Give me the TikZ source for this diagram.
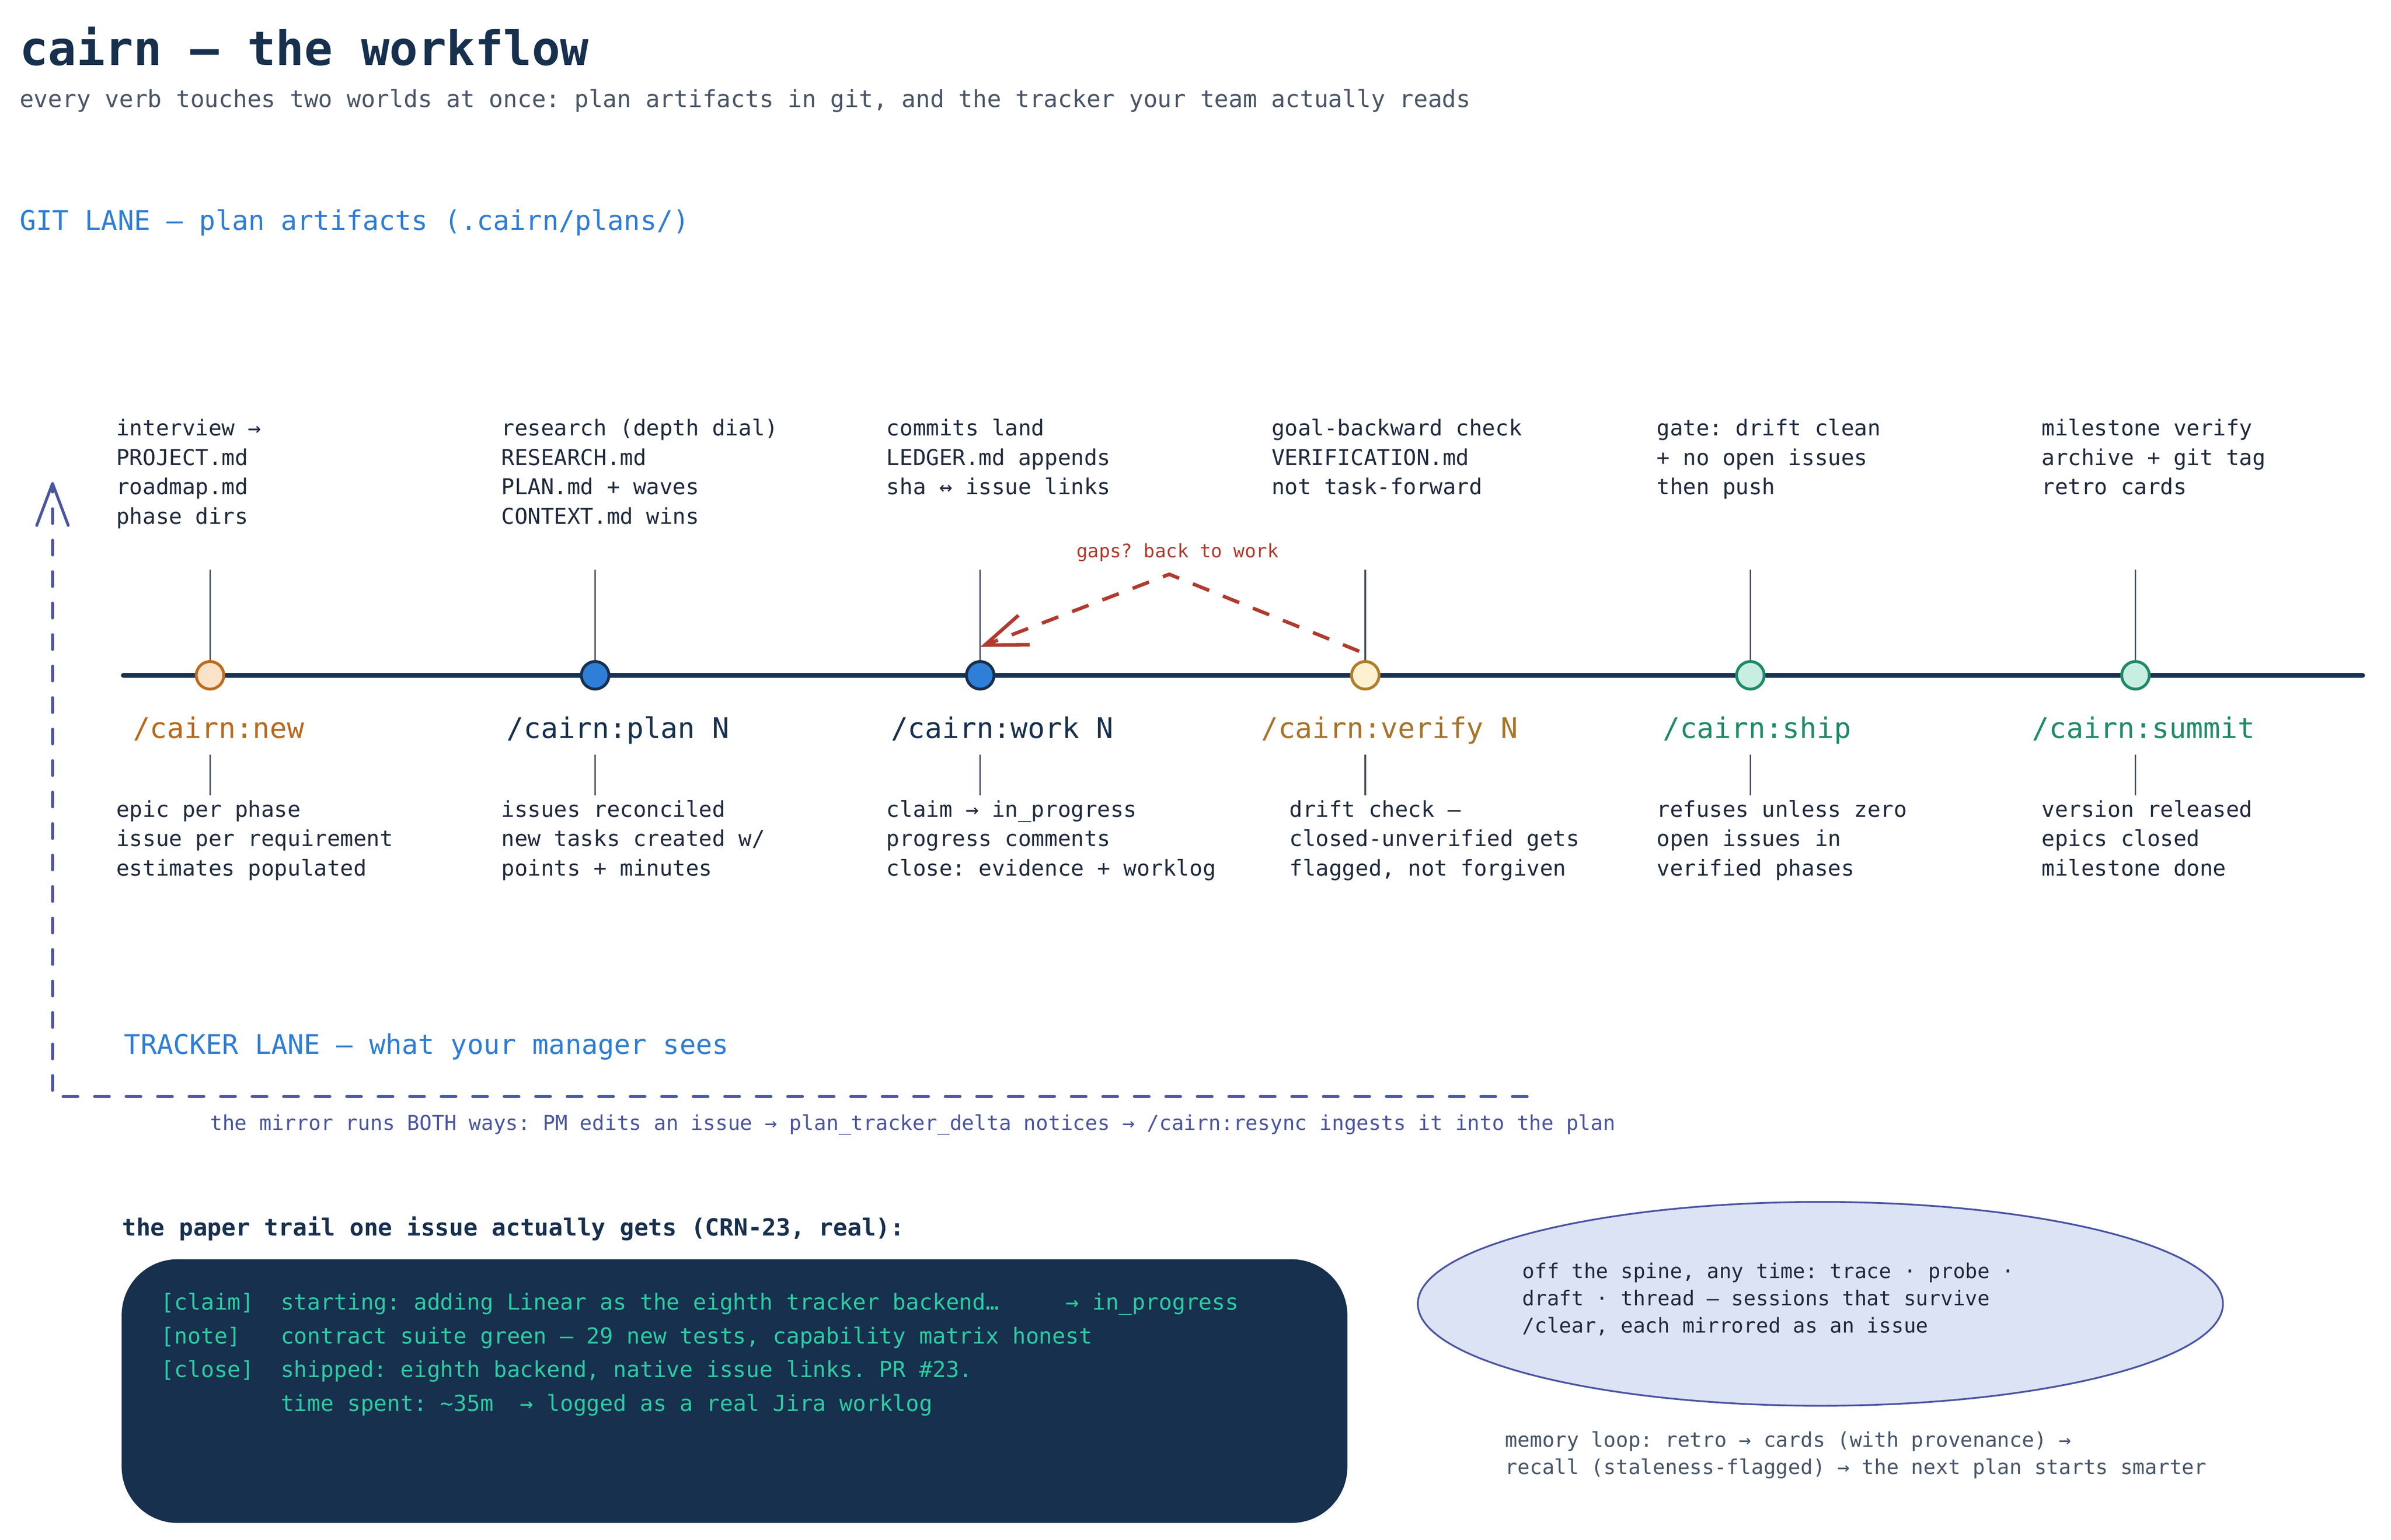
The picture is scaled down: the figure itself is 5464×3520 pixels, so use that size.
\documentclass[tikz,border=0pt]{standalone}
\usepackage{fontspec}
\setmainfont{DejaVu Sans Mono}
\usetikzlibrary{arrows.meta,shapes.geometric}
\frenchspacing

\definecolor{navy}{HTML}{17304E}
\definecolor{ink}{HTML}{1F2A3D}
\definecolor{slate}{HTML}{4A5568}
\definecolor{memgray}{HTML}{475569}
\definecolor{laneblue}{HTML}{2F7DD5}
\definecolor{indigo}{HTML}{4A55A2}
\definecolor{ellfill}{HTML}{DCE3F5}
\definecolor{gapred}{HTML}{B03A2E}
\definecolor{newfill}{HTML}{FAE3C9}
\definecolor{newline}{HTML}{BF6B1F}
\definecolor{newtext}{HTML}{B8691E}
\definecolor{planfill}{HTML}{2F7FD8}
\definecolor{verfill}{HTML}{FDF1D2}
\definecolor{verline}{HTML}{B07D2A}
\definecolor{vertext}{HTML}{A8742A}
\definecolor{shipfill}{HTML}{C8EEE1}
\definecolor{shipline}{HTML}{1E8A6A}
\definecolor{boxfill}{HTML}{16304D}
\definecolor{boxtext}{HTML}{2ECBA3}
\definecolor{tickgray}{HTML}{4A5568}

\newcommand\mlines[1]{\vtop{#1}}

\begin{document}
\begin{tikzpicture}[x=1pt,y=-1pt,
  every node/.style={inner sep=0pt, outer sep=0pt},
  txt/.style={anchor=base west},
  titletxt/.style={txt, text=navy, font=\fontsize{108}{120}\selectfont\bfseries},
  subtxt/.style={txt, text=slate, font=\fontsize{54}{64}\selectfont},
  lanetxt/.style={txt, text=laneblue, font=\fontsize{62}{72}\selectfont},
  cmdtxt/.style={txt, font=\fontsize{65}{75}\selectfont},
  desctxt/.style={txt, text=ink, font=\fontsize{50}{67.3}\selectfont},
  gapstxt/.style={txt, text=gapred, font=\fontsize{42.6}{50}\selectfont},
  mirrortxt/.style={txt, text=indigo, font=\fontsize{46.8}{56}\selectfont},
  trailhead/.style={txt, text=navy, font=\fontsize{54}{64}\selectfont\bfseries},
  trailtxt/.style={txt, text=boxtext, font=\fontsize{50.5}{77}\selectfont},
  elltxt/.style={txt, text=ink, font=\fontsize{46.7}{62}\selectfont},
  memtxt/.style={txt, text=memgray, font=\fontsize{46.7}{63}\selectfont},
  spine/.style={draw=navy, line width=11pt, line cap=round},
  station/.style={circle, minimum size=63pt, line width=6.5pt},
  tick/.style={draw=tickgray, line width=3.5pt},
  gapsarrow/.style={draw=gapred, line width=8pt, dash pattern=on 40pt off 34pt,
    -{Straight Barb[length=96pt,width=72pt]}},
  mirrorloop/.style={draw=indigo, line width=6.5pt, dash pattern=on 34pt off 38pt,
    line cap=round, line join=round, -{Straight Barb[length=96pt,width=72pt,round]}},
  trailbox/.style={fill=boxfill, rounded corners=128pt, minimum width=2801pt,
    minimum height=603pt, anchor=north west},
  offspine/.style={ellipse, draw=indigo, fill=ellfill, line width=4pt,
    minimum width=1840pt, minimum height=466pt}
]
\fill[white] (0,0) rectangle (5464,3520);
\useasboundingbox (0,0) rectangle (5464,3520);

% header
\node[titletxt] (title) at (45,149) {cairn — the workflow};
\node[subtxt] (subtitle) at (45,245) {every verb touches two worlds at once: plan artifacts in git, and the tracker your team actually reads};
\node[lanetxt] (gitlane) at (45,526) {GIT LANE — plan artifacts (.cairn/plans/)};

% spine
\coordinate (spl) at (282,1544);
\coordinate (spr) at (5399,1544);
\coordinate (ttop) at (0,1303);
\coordinate (btop) at (0,1726);
\coordinate (bbot) at (0,1818);
\draw[spine] (spl) -- (spr);

\foreach \i/\x in {1/480,2/1360,3/2240,4/3120,5/4000,6/4880}{
  \coordinate (c\i) at (\x,1544);
  \draw[tick] (c\i |- ttop) -- (c\i);
  \draw[tick] (c\i |- btop) -- (c\i |- bbot);
}

\node[station, fill=newfill, draw=newline] (n1) at (c1) {};
\node[station, fill=planfill, draw=navy] (n2) at (c2) {};
\node[station, fill=planfill, draw=navy] (n3) at (c3) {};
\node[station, fill=verfill, draw=verline] (n4) at (c4) {};
\node[station, fill=shipfill, draw=shipline] (n5) at (c5) {};
\node[station, fill=shipfill, draw=shipline] (n6) at (c6) {};

% command labels
\node[cmdtxt, text=newtext] (l1) at (304,1688) {/cairn:new};
\node[cmdtxt, text=navy] (l2) at (1158,1688) {/cairn:plan N};
\node[cmdtxt, text=navy] (l3) at (2036,1688) {/cairn:work N};
\node[cmdtxt, text=vertext] (l4) at (2882,1688) {/cairn:verify N};
\node[cmdtxt, text=shipline] (l5) at (3800,1688) {/cairn:ship};
\node[cmdtxt, text=shipline] (l6) at (4644,1688) {/cairn:summit};

% git-lane notes
\node[desctxt] (t1) at (266,996) {\mlines{\hbox{interview →}\hbox{PROJECT.md}\hbox{roadmap.md}\hbox{phase dirs}}};
\node[desctxt] (t2) at (1146,996) {\mlines{\hbox{research (depth dial)}\hbox{RESEARCH.md}\hbox{PLAN.md + waves}\hbox{CONTEXT.md wins}}};
\node[desctxt] (t3) at (2026,996) {\mlines{\hbox{commits land}\hbox{LEDGER.md appends}\hbox{sha ↔ issue links}}};
\node[desctxt] (t4) at (2906,996) {\mlines{\hbox{goal-backward check}\hbox{VERIFICATION.md}\hbox{not task-forward}}};
\node[desctxt] (t5) at (3786,996) {\mlines{\hbox{gate: drift clean}\hbox{+ no open issues}\hbox{then push}}};
\node[desctxt] (t6) at (4666,996) {\mlines{\hbox{milestone verify}\hbox{archive + git tag}\hbox{retro cards}}};

% tracker-lane notes
\node[desctxt] (b1) at (266,1868) {\mlines{\hbox{epic per phase}\hbox{issue per requirement}\hbox{estimates populated}}};
\node[desctxt] (b2) at (1146,1868) {\mlines{\hbox{issues reconciled}\hbox{new tasks created w/}\hbox{points + minutes}}};
\node[desctxt] (b3) at (2026,1868) {\mlines{\hbox{claim → in\_progress}\hbox{progress comments}\hbox{close: evidence + worklog}}};
\node[desctxt] (b4) at (2947,1868) {\mlines{\hbox{drift check —}\hbox{closed-unverified gets}\hbox{flagged, not forgiven}}};
\node[desctxt] (b5) at (3786,1868) {\mlines{\hbox{refuses unless zero}\hbox{open issues in}\hbox{verified phases}}};
\node[desctxt] (b6) at (4666,1868) {\mlines{\hbox{version released}\hbox{epics closed}\hbox{milestone done}}};

% gaps loop
\node[gapstxt] (gaps) at (2460,1275) {gaps? back to work};
\coordinate (ga) at (3106,1489);
\coordinate (gb) at (2672,1313);
\coordinate (gc) at (2240,1479);
\draw[gapsarrow] (ga) -- (gb) -- (gc);

% tracker lane
\node[lanetxt] (trackerlane) at (284,2410) {TRACKER LANE — what your manager sees};
\coordinate (ma) at (3490,2507);
\coordinate (mb) at (120,2507);
\coordinate (mc) at (120,1102);
\draw[mirrorloop] (ma) -- (mb) -- (mc);
\node[mirrortxt] (mirror) at (480,2584) {the mirror runs BOTH ways: PM edits an issue → plan\_tracker\_delta notices → /cairn:resync ingests it into the plan};

% paper trail
\node[trailhead] (trailhd) at (279,2825) {the paper trail one issue actually gets (CRN-23, real):};
\node[trailbox] (trail) at (278,2879) {};
\node[trailtxt] (trailtext) at (368,2995) {\mlines{%
\hbox{[claim]~~starting: adding Linear as the eighth tracker backend…~~~~~→ in\_progress}%
\hbox{[note]~~~contract suite green — 29 new tests, capability matrix honest}%
\hbox{[close]~~shipped: eighth backend, native issue links. PR \#23.}%
\hbox{~~~~~~~~~time spent: \textasciitilde 35m~~→ logged as a real Jira worklog}}};

% off the spine
\node[offspine] (spinell) at (4160,2981) {};
\node[elltxt] (offtxt) at (3479,2923) {\mlines{\hbox{off the spine, any time: trace · probe ·}\hbox{draft · thread — sessions that survive}\hbox{/clear, each mirrored as an issue}}};
\node[memtxt] (memory) at (3440,3308) {\mlines{\hbox{memory loop: retro → cards (with provenance) →}\hbox{recall (staleness-flagged) → the next plan starts smarter}}};
\end{tikzpicture}
\end{document}
